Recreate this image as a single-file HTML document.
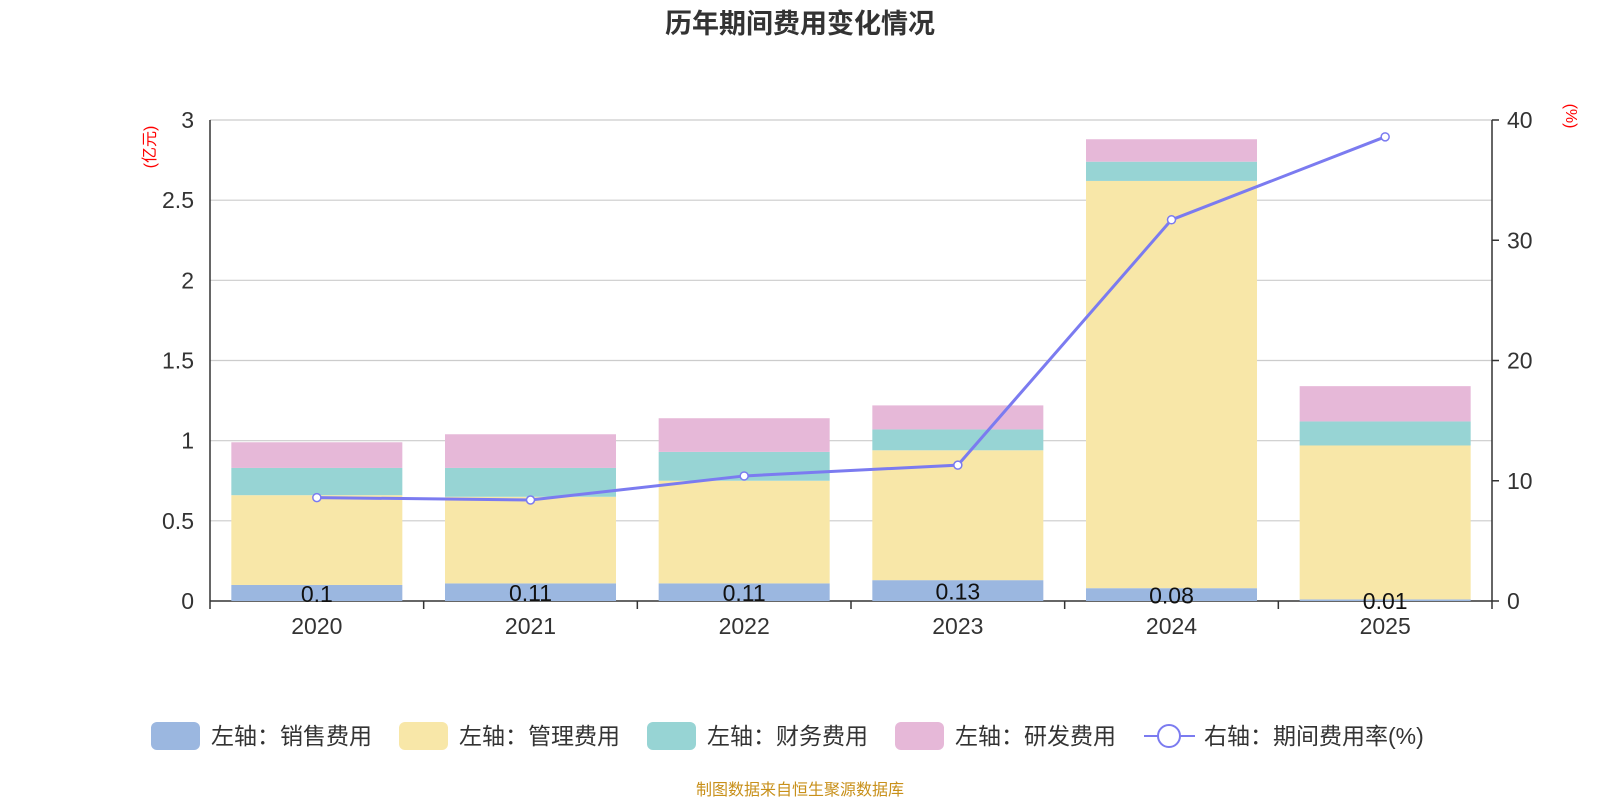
<!DOCTYPE html>
<html><head><meta charset="utf-8">
<style>
body{margin:0;background:#fff;}
svg{display:block;font-family:"Liberation Sans","Noto Sans CJK SC",sans-serif;}
</style></head>
<body>
<svg id="chart" width="1600" height="800" viewBox="0 0 1600 800">
<text x="800" y="33" text-anchor="middle" font-size="27" font-weight="bold" fill="#333">历年期间费用变化情况</text>
<text transform="translate(155,147) rotate(-90)" text-anchor="middle" font-size="16" fill="#f00">(亿元)</text>
<text transform="translate(1566,116) rotate(90)" text-anchor="middle" font-size="16" fill="#f00">(%)</text>
<g id="grid"></g><g id="bars"></g><g id="axes"></g><g id="line"></g>
<g id="legend"></g>
<text x="800" y="795" text-anchor="middle" font-size="16" fill="#c8901a">制图数据来自恒生聚源数据库</text>
</svg>
<script>
const categories=["2020","2021","2022","2023","2024","2025"];
const sales=[0.10,0.11,0.11,0.13,0.08,0.01];
const admin=[0.56,0.54,0.64,0.81,2.54,0.96];
const finance=[0.17,0.18,0.18,0.13,0.12,0.15];
const rnd=[0.16,0.21,0.21,0.15,0.14,0.22];
const rate=[8.6,8.4,10.4,11.3,31.7,38.6];
const leftTicks=[0,0.5,1,1.5,2,2.5,3];
const rightTicks=[0,10,20,30,40];
const NS="http://www.w3.org/2000/svg";
const X0=210,X1=1492,Y0=601,Y1=120;
const bw=(X1-X0)/categories.length;
const yL=v=>Y0-(v/3)*(Y0-Y1);
const yR=v=>Y0-(v/40)*(Y0-Y1);
const xC=i=>X0+bw*(i+0.5);
function mk(tag,attrs,parent){const e=document.createElementNS(NS,tag);for(const k in attrs)e.setAttribute(k,attrs[k]);document.getElementById(parent).appendChild(e);return e;}
leftTicks.forEach(t=>{
 const l=mk('line',{x1:X0,x2:X1,y1:yL(t),y2:yL(t),stroke:t===0?'#333':'#ccc','stroke-width':t===0?1.5:1.2},'grid');
 
 
 const tx=mk('text',{x:X0-16,y:yL(t)+8,'text-anchor':'end','font-size':23,fill:'#333'},'axes');tx.textContent=t;
 
 
});
rightTicks.forEach(t=>{
 const tk=mk('line',{x1:X1,x2:X1+7,y1:yR(t),y2:yR(t),stroke:'#333','stroke-width':1.5},'axes');
 
 
 const tx=mk('text',{x:X1+15,y:yR(t)+8,'font-size':23,fill:'#333'},'axes');tx.textContent=t;
 
 
});
const ax=mk('line',{x1:X1,x2:X1,y1:Y1,y2:Y0,stroke:'#333','stroke-width':1.5},'axes');


const ax2=mk('line',{x1:X0,x2:X0,y1:Y1,y2:Y0,stroke:'#333','stroke-width':1.5},'axes');


for(let i=0;i<=categories.length;i++){
 const t=mk('line',{x1:X0+bw*i,x2:X0+bw*i,y1:Y0,y2:Y0+8,stroke:'#333','stroke-width':1.5},'axes');
 
 
}
const series=[[sales,'#9bb7e0','sales'],[admin,'#f8e7a8','admin'],[finance,'#97d4d4','finance'],[rnd,'#e6b8d8','rnd']];
categories.forEach((c,i)=>{
 let cum=0;const w=171,x=xC(i)-w/2;
 series.forEach(([arr,col,nm])=>{
  const v=arr[i];
  const r=mk('rect',{x:x,y:yL(cum+v),width:w,height:yL(cum)-yL(cum+v),fill:col},'bars');
  
  
  cum+=v;
 });
 const lb=mk('text',{x:xC(i),y:yL(sales[i]/2)+9,'text-anchor':'middle','font-size':23,fill:'#111'},'bars');lb.textContent=sales[i];
 
 
 const xl=mk('text',{x:xC(i),y:634,'text-anchor':'middle','font-size':23,fill:'#333'},'axes');xl.textContent=c;
 
 
});
const pl=mk('polyline',{points:rate.map((v,i)=>xC(i)+','+yR(v)).join(' '),fill:'none',stroke:'#7b7bf0','stroke-width':3},'line');


rate.forEach((v,i)=>{
 const p=mk('circle',{cx:xC(i),cy:yR(v),r:4,fill:'#fff',stroke:'#7b7bf0','stroke-width':1.5},'line');
 
 
});
const legItems=[['左轴：销售费用','#9bb7e0',151],['左轴：管理费用','#f8e7a8',399],['左轴：财务费用','#97d4d4',647],['左轴：研发费用','#e6b8d8',895]];
legItems.forEach(([t,c,x])=>{
 const r=mk('rect',{x:x,y:722,width:49,height:28,rx:6,fill:c},'legend');
 
 
 const tx=mk('text',{x:x+60,y:744,'font-size':23,fill:'#333'},'legend');tx.textContent=t;
 
 
});
const ll=mk('line',{x1:1144,x2:1195,y1:736,y2:736,stroke:'#7b7bf0','stroke-width':2},'legend');


const lc=mk('circle',{cx:1169,cy:736,r:11,fill:'#fff',stroke:'#7b7bf0','stroke-width':2},'legend');


const lt=mk('text',{x:1204,y:744,'font-size':23,fill:'#333'},'legend');lt.textContent='右轴：期间费用率(%)';


</script>
</body></html>
